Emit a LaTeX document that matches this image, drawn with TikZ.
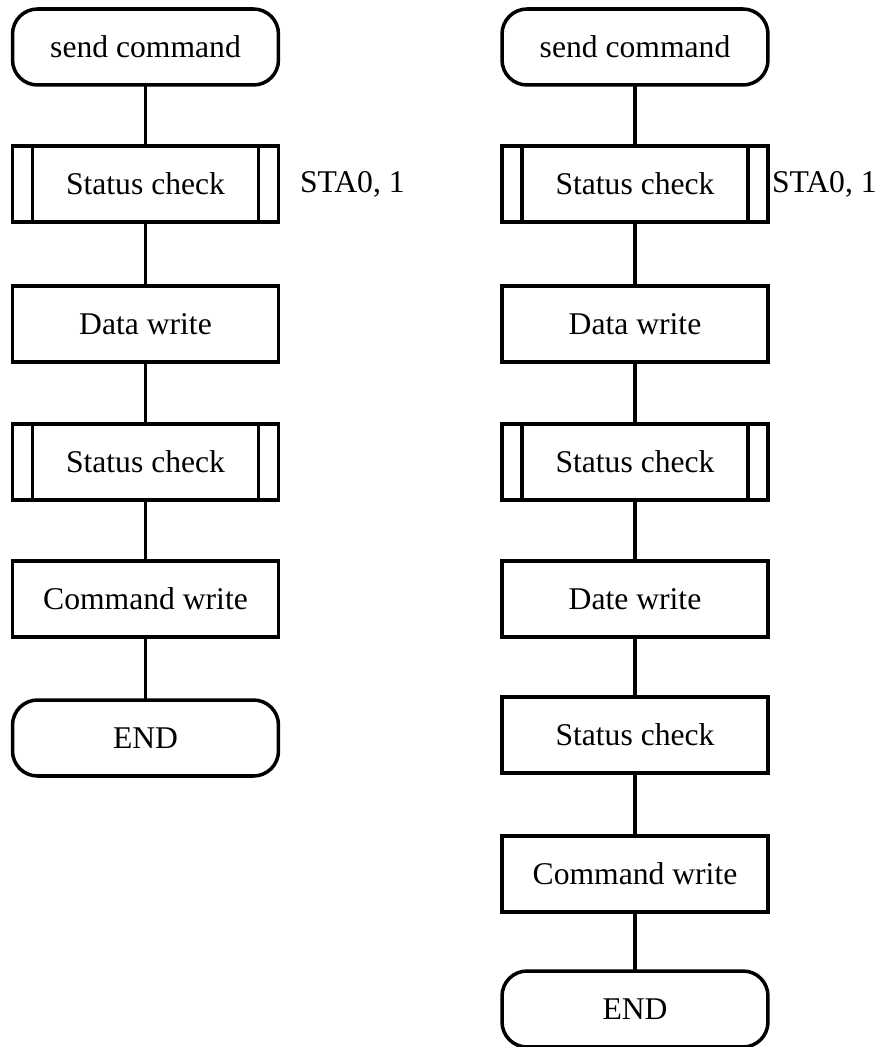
\documentclass[tikz,border=0pt]{standalone}
\usepackage{fontspec}
\setmainfont{Liberation Serif}
\usetikzlibrary{positioning}
\tikzset{every node/.style={draw, rectangle, minimum width=5.32cm, minimum height=1.52cm, inner sep=0pt, outer sep=0pt, font=\fontsize{18}{21}\selectfont}}
\tikzset{term/.style={rounded corners=0.5cm}}
\tikzset{note/.style={draw=none, minimum width=0pt, minimum height=0pt, anchor=west}}

\begin{document}
\begin{tikzpicture}[x=0.02cm, y=-0.02cm, line width=2pt]
\useasboundingbox (0,0) rectangle (888,1047);
\node[term] (C0Y0) at (145.5,47) {send command};
\node (C0Y1) at (145.5,184) {Status check};
\node (C0Y2) at (145.5,324) {Data write};
\node (C0Y3) at (145.5,462) {Status check};
\node (C0Y4) at (145.5,599) {Command write};
\node[term] (C0Y5) at (145.5,738) {END};
\node[term] (C1Y0) at (635,47) {send command};
\node (C1Y1) at (635,184) {Status check};
\node (C1Y2) at (635,324) {Data write};
\node (C1Y3) at (635,462) {Status check};
\node (C1Y4) at (635,599) {Date write};
\node (C1Y5) at (635,735) {Status check};
\node (C1Y6) at (635,874) {Command write};
\node[term] (C1Y7) at (635,1009) {END};
\node[note] (N0) at (300,184) {STA0, 1};
\node[note] (N1) at (772,184) {STA0, 1};
\draw ([xshift=0.4cm]C0Y1.north west) -- ([xshift=0.4cm]C0Y1.south west);
\draw ([xshift=-0.4cm]C0Y1.north east) -- ([xshift=-0.4cm]C0Y1.south east);
\draw ([xshift=0.4cm]C0Y3.north west) -- ([xshift=0.4cm]C0Y3.south west);
\draw ([xshift=-0.4cm]C0Y3.north east) -- ([xshift=-0.4cm]C0Y3.south east);
\draw ([xshift=0.4cm]C1Y1.north west) -- ([xshift=0.4cm]C1Y1.south west);
\draw ([xshift=-0.4cm]C1Y1.north east) -- ([xshift=-0.4cm]C1Y1.south east);
\draw ([xshift=0.4cm]C1Y3.north west) -- ([xshift=0.4cm]C1Y3.south west);
\draw ([xshift=-0.4cm]C1Y3.north east) -- ([xshift=-0.4cm]C1Y3.south east);
\draw (C0Y0) -- (C0Y1);
\draw (C0Y1) -- (C0Y2);
\draw (C0Y2) -- (C0Y3);
\draw (C0Y3) -- (C0Y4);
\draw (C0Y4) -- (C0Y5);
\draw (C1Y0) -- (C1Y1);
\draw (C1Y1) -- (C1Y2);
\draw (C1Y2) -- (C1Y3);
\draw (C1Y3) -- (C1Y4);
\draw (C1Y4) -- (C1Y5);
\draw (C1Y5) -- (C1Y6);
\draw (C1Y6) -- (C1Y7);
\end{tikzpicture}
\end{document}
